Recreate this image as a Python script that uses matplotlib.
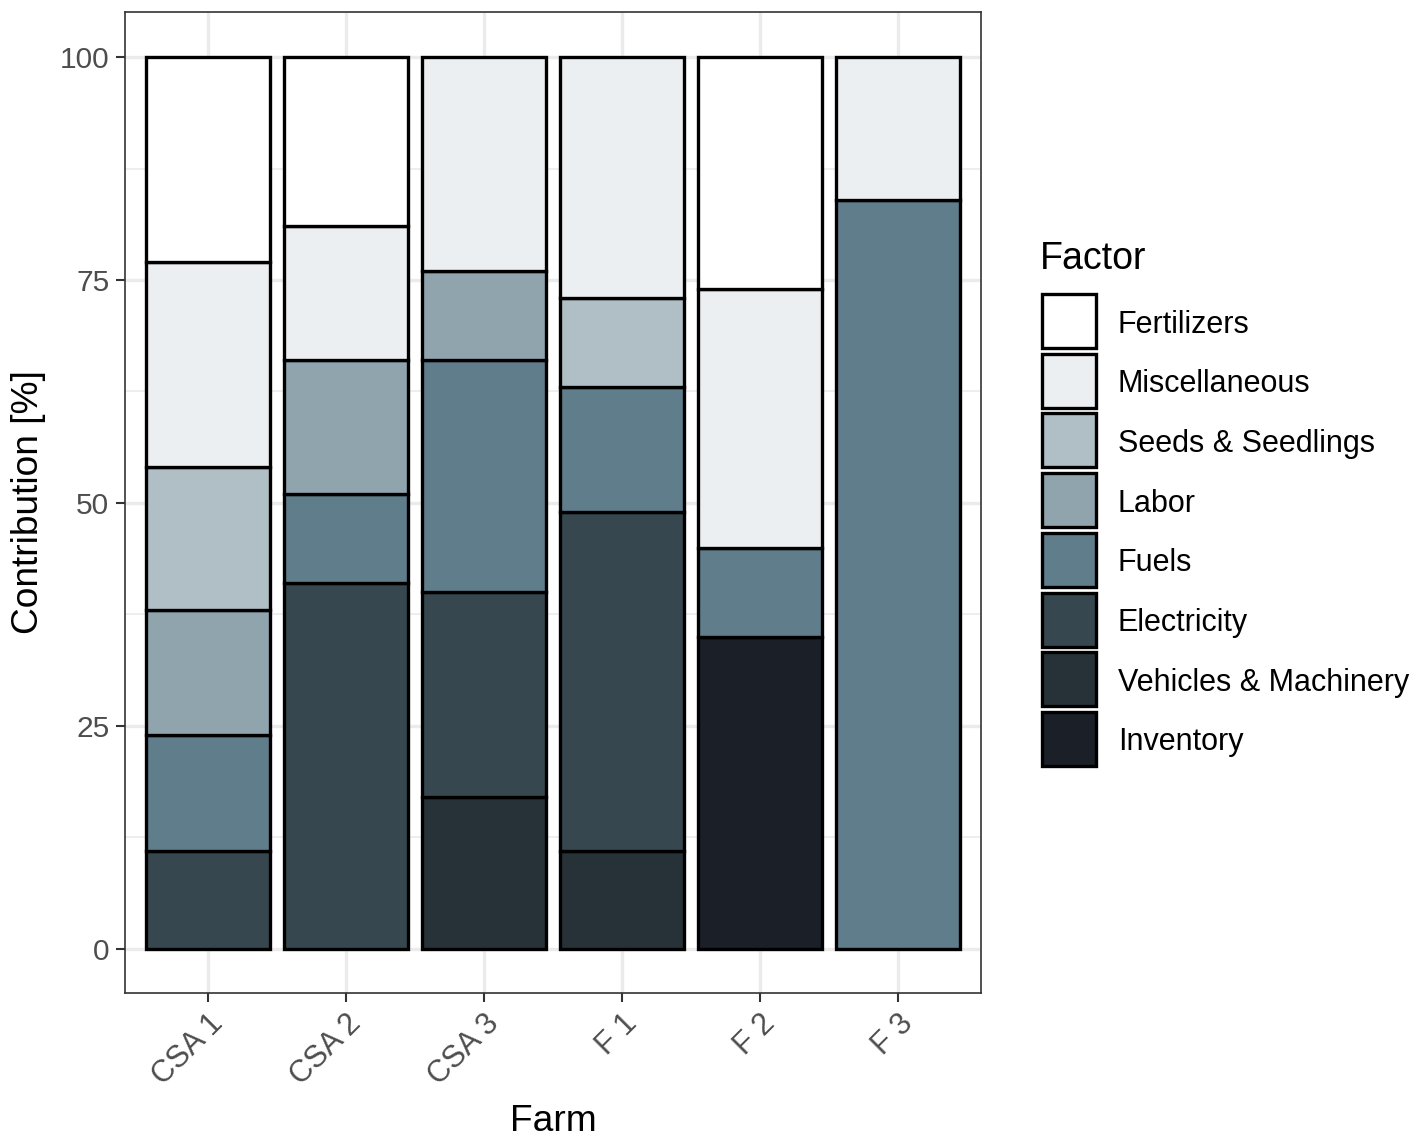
import matplotlib
matplotlib.use("Agg")
import matplotlib.pyplot as plt
from matplotlib.patches import Rectangle
from matplotlib.ticker import MultipleLocator
import numpy as np

plt.rcParams['font.family'] = ['Liberation Sans', 'DejaVu Sans']

farms = ["CSA 1", "CSA 2", "CSA 3", "F 1", "F 2", "F 3"]
# stacking order from bottom to top
factors_bottom_up = ["Inventory", "Vehicles & Machinery", "Electricity", "Fuels",
                     "Labor", "Seeds & Seedlings", "Miscellaneous", "Fertilizers"]
inventory   = [0, 0, 0, 0, 35, 0]
vehicles    = [0, 0, 17, 11, 0, 0]
electricity = [11, 41, 23, 38, 0, 0]
fuels       = [13, 10, 26, 14, 10, 84]
labor       = [14, 15, 10, 0, 0, 0]
seeds       = [16, 0, 0, 10, 0, 0]
misc        = [23, 15, 24, 27, 29, 16]
fertilizers = [23, 19, 0, 0, 26, 0]
values = [inventory, vehicles, electricity, fuels, labor, seeds, misc, fertilizers]
colors = ["#1a1f28", "#263238", "#37474f", "#607d8b",
          "#90a4ae", "#b0bec5", "#eceff1", "#ffffff"]

fig = plt.figure(figsize=(14.18, 11.39), dpi=100)
W, H = 1418, 1139
ax = fig.add_axes([125 / W, 1 - 993 / H, (981 - 125) / W, (993 - 12) / H])

x = np.arange(len(farms))
bottom = np.zeros(len(farms))
for vals, col in zip(values, colors):
    v = np.array(vals, dtype=float)
    mask = v > 0
    ax.bar(x[mask], v[mask], bottom=bottom[mask], width=0.9, color=col,
           edgecolor="black", linewidth=2.4, zorder=3)
    bottom += v

ax.set_xlim(-0.6, 5.6)
ax.set_ylim(-4.95, 105.05)
ax.yaxis.set_major_locator(MultipleLocator(25))
ax.yaxis.set_minor_locator(MultipleLocator(12.5))
ax.set_xticks(x)
ax.set_xticklabels(farms, rotation=45, ha="right", va="top", rotation_mode="anchor")
ax.grid(which="major", color="#ebebeb", linewidth=2.4, zorder=0)
ax.grid(which="minor", axis="y", color="#ebebeb", linewidth=1.2, zorder=0)
ax.set_axisbelow(True)
ax.tick_params(axis="both", which="major", length=6.3, width=1.5, color="#333333",
               labelsize=21.5, labelcolor="#4d4d4d", pad=5)
ax.tick_params(axis="x", which="major", labelsize=22)
ax.tick_params(axis="y", which="minor", length=0)
for s in ax.spines.values():
    s.set_color("#333333")
    s.set_linewidth(1.2)

ax.set_xlabel("Farm", fontsize=26.7, labelpad=9)
ax.set_ylabel("Contribution [%]", fontsize=26.7, labelpad=10)

# legend (drawn in figure pixel coordinates)
fig.text(1040 / W, 1 - 269 / H, "Factor", fontsize=27, ha="left", va="baseline")
labels = factors_bottom_up[::-1]
leg_colors = colors[::-1]
key_left, key_top, key_size, step = 1042, 294, 54, 59.7
for i, (lab, col) in enumerate(zip(labels, leg_colors)):
    top = key_top + i * step
    fig.add_artist(Rectangle((key_left / W, 1 - (top + key_size) / H),
                             key_size / W, key_size / H, transform=fig.transFigure,
                             facecolor=col, edgecolor="black", linewidth=2.4))
    fig.text(1118 / W, 1 - (top + key_size / 2 + 3.5) / H, lab, fontsize=22,
             ha="left", va="center")

fig.savefig("out.png", dpi=100)
